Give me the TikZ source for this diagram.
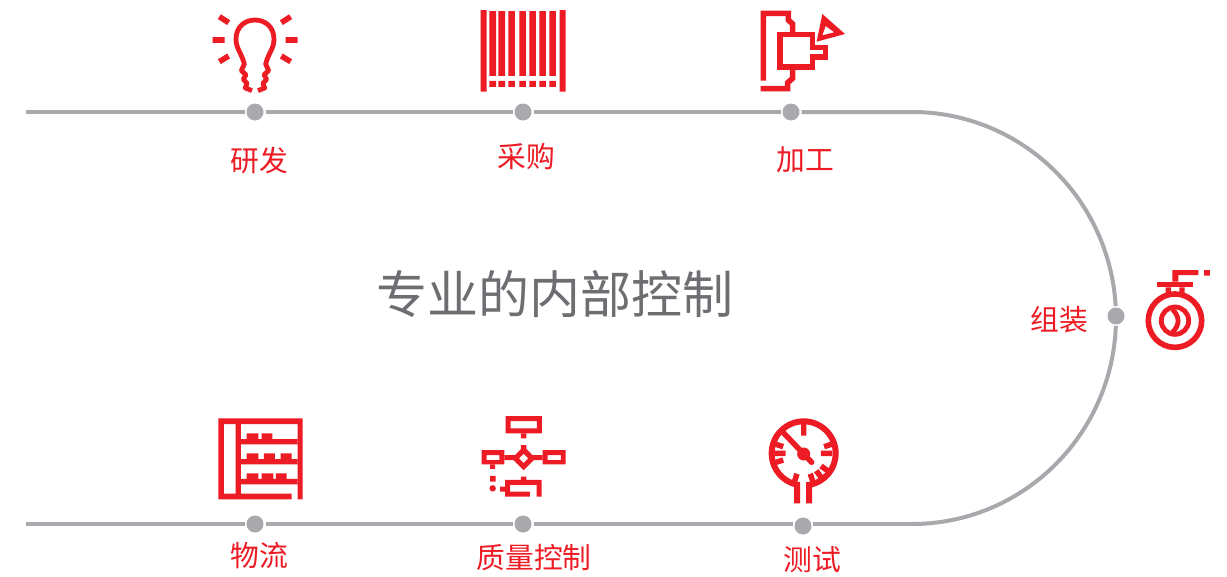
\documentclass[tikz,border=0pt]{standalone}
\usepackage{fontspec}
\setmainfont{Noto Sans CJK SC}
\definecolor{iconred}{HTML}{ED1C24}
\definecolor{linegrey}{HTML}{A9A9AD}
\definecolor{textgrey}{HTML}{6D6E71}
\tikzset{
  dotnode/.style={circle,fill=linegrey,minimum size=17pt,inner sep=0pt,outer sep=2pt},
  track/.style={draw=linegrey,line width=4pt},
  steplabel/.style={text=iconred,inner sep=0pt,font=\fontsize{28.8}{30}\selectfont},
  titlelabel/.style={text=textgrey,inner sep=0pt,font=\fontsize{51}{54}\selectfont},
  icon/.style={draw=iconred,line width=5.6pt,fill=none,miter limit=10},
  thin icon/.style={draw=iconred,line width=4.8pt,fill=none}
}
\begin{document}
\begin{tikzpicture}[x=1pt,y=-1pt]
\useasboundingbox (0,0) rectangle (1227,576);
\fill[white] (0,0) rectangle (1227,576);
% dots
\node[dotnode] (d1) at (255,112) {};
\node[dotnode] (d2) at (523,112) {};
\node[dotnode] (d3) at (791,112) {};
\node[dotnode] (d4) at (1116,316) {};
\node[dotnode] (d5) at (803,526) {};
\node[dotnode] (d6) at (523,524) {};
\node[dotnode] (d7) at (255,524) {};
\coordinate (s1) at (26,112);
\coordinate (s2) at (26,524);
\coordinate (c1) at (912,112);
\coordinate (c2) at (912,524);
\coordinate (g1) at (813,524);
\coordinate (g2) at (793,524);
% track
\draw[track] (s1) -- (d1);
\draw[track] (d1) -- (d2);
\draw[track] (d2) -- (d3);
\draw[track] (d3.east) -- (c1) arc[start angle=-90,end angle=-3.3,x radius=204,y radius=206];
\draw[track] (c2) arc[start angle=90,end angle=2.2,x radius=204,y radius=206];
\draw[track] (c2) -- (g1);
\draw[track] (g2) -- (d6);
\draw[track] (d6) -- (d7);
\draw[track] (d7) -- (s2);
% labels
\node[steplabel] (l1) at (259,161) {研发};
\node[steplabel] (l2) at (526,157) {采购};
\node[steplabel] (l3) at (805,160) {加工};
\node[steplabel] (l4) at (1059,320) {组装};
\node[steplabel] (l5) at (812,560) {测试};
\node[steplabel] (l6) at (534,558) {质量控制};
\node[steplabel] (l7) at (259,556) {物流};
\node[titlelabel] (title) at (555,294) {专业的内部控制};
% bulb
\begin{scope}[shift={(190,0)},x=0.3333pt,y=-0.3333pt]
\draw[icon] (68,120) -- (104,120) (287,120) -- (323,120)
  (88,50) -- (116,68) (302,50) -- (274,68)
  (88,185) -- (116,168) (302,185) -- (274,168);
\draw[thin icon,line join=round] (186,272) -- (166,264) -- (171,250) -- (160,238) -- (168,224) -- (154,212) -- (163,192)
  .. controls (155,160) and (138,145) .. (138,118)
  .. controls (138,80) and (165,60) .. (195,60)
  .. controls (225,60) and (252,80) .. (252,118)
  .. controls (252,145) and (235,160) .. (227,192)
  -- (236,212) -- (222,224) -- (230,238) -- (219,250) -- (224,264) -- (204,272);
\end{scope}
% barcode
\begin{scope}[shift={(460,0)},x=0.3333pt,y=-0.3333pt]
\fill[iconred] (62,30) rectangle (80,275) (299,30) rectangle (317,275);
\foreach \a/\b in {88/108,115/135,145/165,178/198,208/228,238/258,268/288}{
  \fill[iconred] (\a,33) rectangle (\b,228) (\a,243) rectangle (\b,261);
}
\end{scope}
% machine
\begin{scope}[shift={(735,0)},x=0.3333pt,y=-0.3333pt]
\draw[icon] (85,242) -- (85,40) -- (160,40) -- (160,60) -- (173,72) -- (173,104);
\draw[icon] (135,104) -- (232,104) -- (232,142) -- (271,142) -- (271,171) -- (232,171) -- (232,201) -- (135,201) -- cycle;
\draw[icon] (173,201) -- (173,235) -- (158,248) -- (158,266) -- (77,266);
\fill[iconred,even odd rule] (262,42) -- (330,102) -- (245,125) -- cycle (272,78) -- (298,97) -- (262,106) -- cycle;
\end{scope}
% valve
\begin{scope}[shift={(1100,250)},x=0.3333pt,y=-0.3333pt]
\draw[icon] (225,212) circle[radius=26.7pt];
\draw[thin icon] (225,212) circle[radius=13.7pt];
\draw[thin icon] (217,178) .. controls (240,200) and (240,225) .. (217,247);
\fill[iconred] (172,95) rectangle (278,112);
\fill[iconred] (197,112) rectangle (213,135) (238,112) rectangle (254,135) (197,127) rectangle (254,140);
\fill[iconred] (217,60) rectangle (235,95) (217,60) rectangle (295,75) (312,60) rectangle (330,77);
\end{scope}
% shelf
\begin{scope}[shift={(200,405)},x=0.3333pt,y=-0.3333pt]
\fill[iconred] (55,40) rectangle (308,57) (55,40) rectangle (72,283) (293,40) rectangle (308,283) (55,266) rectangle (275,283) (107,57) rectangle (123,266);
\fill[iconred] (123,102) rectangle (293,118) (123,162) rectangle (293,178) (123,222) rectangle (293,238);
\fill[iconred] (140,85) rectangle (175,102) (185,85) rectangle (217,102)
  (140,145) rectangle (175,162) (192,145) rectangle (225,162) (242,145) rectangle (275,162)
  (140,205) rectangle (175,222) (185,205) rectangle (220,222) (228,205) rectangle (260,222);
\end{scope}
% flow
\begin{scope}[shift={(465,405)},x=0.3333pt,y=-0.3333pt]
\fill[iconred,even odd rule] (122,33) rectangle (231,85) (137,48) rectangle (216,70);
\fill[iconred] (168,85) rectangle (184,100) (168,120) rectangle (184,140);
\fill[iconred,even odd rule] (176,124) -- (212,160) -- (176,196) -- (140,160) -- cycle (176,146) -- (190,160) -- (176,174) -- (162,160) -- cycle;
\fill[iconred,even odd rule] (50,135) rectangle (118,178) (65,150) rectangle (103,165);
\fill[iconred,even odd rule] (233,135) rectangle (302,178) (248,150) rectangle (288,165);
\fill[iconred] (118,150) rectangle (150,165) (202,150) rectangle (233,165);
\fill[iconred] (75,178) rectangle (90,192) (75,213) rectangle (92,230) (168,215) rectangle (184,232);
\fill[iconred] (83,250) circle[radius=3.2pt];
\fill[iconred] (120,240) rectangle (135,275) (120,240) rectangle (168,225) (168,225) rectangle (230,240) (215,225) rectangle (230,275) (120,260) rectangle (195,275) (105,245) rectangle (120,260);
\end{scope}
% gauge
\begin{scope}[shift={(745,405)},x=0.3333pt,y=-0.3333pt]
\draw[iconred,line width=6pt] (176,145) circle[radius=32pt];
\fill[white] (165,225) rectangle (183,295);
\fill[iconred] (147,232) rectangle (165,295) (183,232) rectangle (201,295);
\fill[iconred] (168,57) rectangle (184,92) (88,137) rectangle (122,153) (228,137) rectangle (262,153);
\foreach \ang in {-108,-72,-54,-36,-162,18,162}{
  \draw[iconred,line width=5.5pt] (176,145) ++(\ang:29.5pt) -- ++(\ang:-8pt);
}
\draw[iconred,line width=5.5pt,line cap=round] (116,84) -- (200,172);
\fill[iconred] (176,147) circle[radius=6.5pt];
\end{scope}
\end{tikzpicture}
\end{document}
